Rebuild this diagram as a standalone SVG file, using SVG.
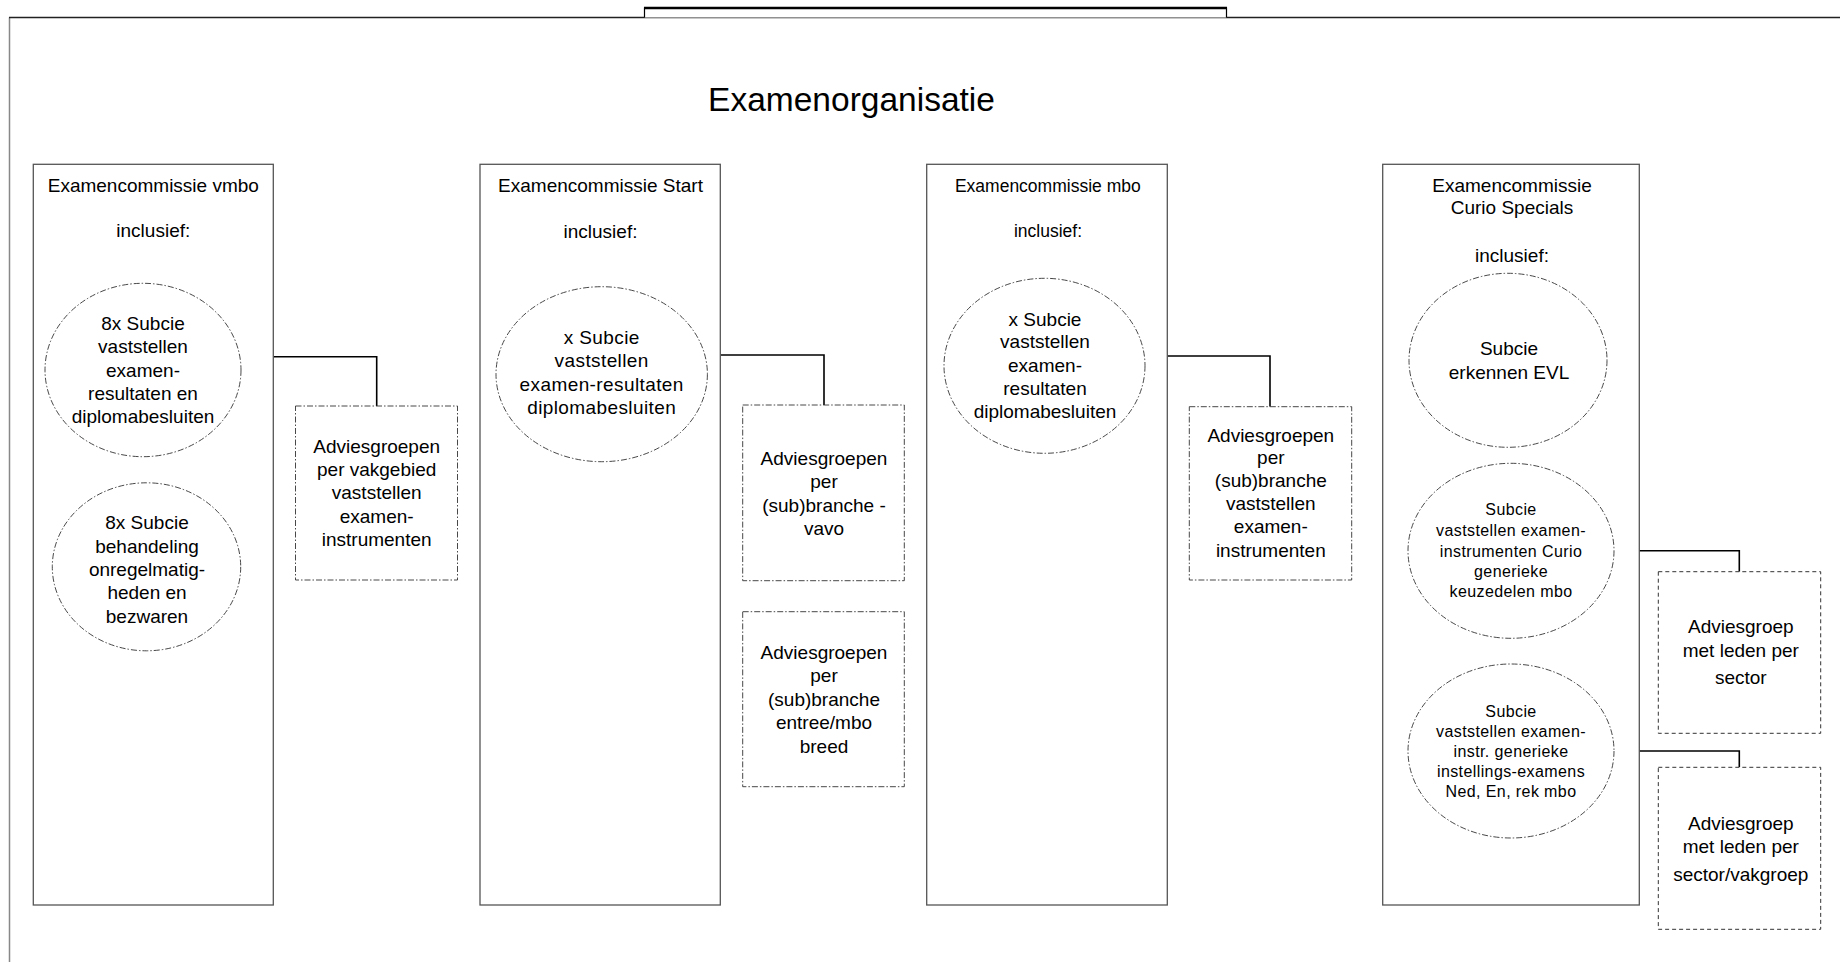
<svg xmlns="http://www.w3.org/2000/svg" width="1840" height="962" viewBox="0 0 1840 962">
<style>
text{font-family:"Liberation Sans",Arial,sans-serif;font-size:19px;fill:#000;text-anchor:middle}
.title{font-size:33.5px}
.cal{font-size:17.5px}
.sm{font-size:16px;letter-spacing:0.4px}
.wide{letter-spacing:0.4px}
.box{fill:#fff;stroke:#555;stroke-width:1.3}
.ell{fill:#fff;stroke:#333;stroke-width:0.9;stroke-dasharray:6 2 1.5 2}
.adv{fill:#fff;stroke:#333;stroke-width:0.9;stroke-dasharray:6 2 1.5 2}
.advd{fill:#fff;stroke:#333;stroke-width:1;stroke-dasharray:4 3}
.con{fill:none;stroke:#000;stroke-width:1.6}
</style>
<rect width="1840" height="962" fill="#fff"/>
<g id="frame">
<line x1="9.5" y1="17.5" x2="9.5" y2="962" stroke="#888" stroke-width="1.5"/>
<line x1="9" y1="17.5" x2="1840" y2="17.5" stroke="#222" stroke-width="1.6"/>
<path d="M644.5 17.5 V8 H1226.5 V17.5" fill="#fff" stroke="#000" stroke-width="1.2"/>
<line x1="644" y1="8" x2="1227" y2="8" stroke="#000" stroke-width="2.6"/>
<text class="title" x="851.5" y="111">Examenorganisatie</text>
</g>
<g id="connectors">
<path class="con" d="M273.3 356.7 H376.7 V406"/>
<path class="con" d="M720.3 355 H824 V405"/>
<path class="con" d="M1167.3 356 H1270 V406.7"/>
<path class="con" d="M1614 550.7 H1739.3 V571.7"/>
<path class="con" d="M1614 751 H1739.3 V767.3"/>
</g>
<g id="vmbo">
<rect class="box" x="33.3" y="164.3" width="240" height="740.7"/>
<text x="153.3" y="191.7">Examencommissie vmbo</text>
<text x="153.3" y="237.3">inclusief:</text>
</g>
<g id="vmbo-subcie-1">
<ellipse class="ell" cx="143" cy="370" rx="98" ry="86.7"/>
<text x="143" y="330">8x Subcie</text>
<text x="143" y="353.3">vaststellen</text>
<text x="143" y="376.7">examen-</text>
<text x="143" y="400">resultaten en</text>
<text x="143" y="423.3">diplomabesluiten</text>
</g>
<g id="vmbo-subcie-2">
<ellipse class="ell" cx="146.5" cy="566.8" rx="94.2" ry="84"/>
<text x="147" y="529.3">8x Subcie</text>
<text x="147" y="552.7">behandeling</text>
<text x="147" y="576">onregelmatig-</text>
<text x="147" y="599.3">heden en</text>
<text x="147" y="622.7">bezwaren</text>
</g>
<g id="vmbo-advies">
<rect class="adv" x="295.5" y="406" width="162" height="174"/>
<text x="376.7" y="452.7">Adviesgroepen</text>
<text x="376.7" y="476">per vakgebied</text>
<text x="376.7" y="499.3">vaststellen</text>
<text x="376.7" y="522.7">examen-</text>
<text x="376.7" y="546">instrumenten</text>
</g>
<g id="start">
<rect class="box" x="480" y="164.3" width="240.3" height="740.7"/>
<text x="600.5" y="191.7">Examencommissie Start</text>
<text x="600.5" y="237.5">inclusief:</text>
</g>
<g id="start-subcie">
<ellipse class="ell" cx="601.7" cy="374.2" rx="105.7" ry="87.5"/>
<text class="wide" x="601.7" y="344">x Subcie</text>
<text class="wide" x="601.7" y="367.4">vaststellen</text>
<text class="wide" x="601.7" y="390.8">examen-resultaten</text>
<text class="wide" x="601.7" y="414.2">diplomabesluiten</text>
</g>
<g id="start-advies-vavo">
<rect class="adv" x="742.7" y="405" width="161.6" height="175.7"/>
<text x="824" y="465">Adviesgroepen</text>
<text x="824" y="488.4">per</text>
<text x="824" y="511.8">(sub)branche -</text>
<text x="824" y="535.2">vavo</text>
</g>
<g id="start-advies-entree">
<rect class="adv" x="742.7" y="611.7" width="161.6" height="175"/>
<text x="824" y="659">Adviesgroepen</text>
<text x="824" y="682.4">per</text>
<text x="824" y="705.8">(sub)branche</text>
<text x="824" y="729.2">entree/mbo</text>
<text x="824" y="752.6">breed</text>
</g>
<g id="mbo">
<rect class="box" x="926.7" y="164.3" width="240.6" height="740.7"/>
<text class="cal" x="1047.8" y="191.7">Examencommissie mbo</text>
<text class="cal" x="1048" y="237.3">inclusief:</text>
</g>
<g id="mbo-subcie">
<ellipse class="ell" cx="1044.5" cy="365.8" rx="100.5" ry="87.5"/>
<text x="1045" y="325.7">x Subcie</text>
<text x="1045" y="348.3">vaststellen</text>
<text x="1045" y="371.7">examen-</text>
<text x="1045" y="395">resultaten</text>
<text x="1045" y="418.3">diplomabesluiten</text>
</g>
<g id="mbo-advies">
<rect class="adv" x="1189.3" y="406.7" width="162.4" height="173.3"/>
<text x="1270.8" y="441.7">Adviesgroepen</text>
<text x="1270.8" y="464">per</text>
<text x="1270.8" y="486.7">(sub)branche</text>
<text x="1270.8" y="510">vaststellen</text>
<text x="1270.8" y="533.3">examen-</text>
<text x="1270.8" y="556.7">instrumenten</text>
</g>
<g id="curio">
<rect class="box" x="1382.7" y="164.3" width="256.6" height="740.7"/>
<text x="1512" y="191.7">Examencommissie</text>
<text x="1512" y="214">Curio Specials</text>
<text x="1512" y="261.7">inclusief:</text>
</g>
<g id="curio-subcie-evl">
<ellipse class="ell" cx="1508" cy="360.3" rx="99" ry="87"/>
<text x="1509" y="355">Subcie</text>
<text x="1509" y="379">erkennen EVL</text>
</g>
<g id="curio-subcie-keuzedelen">
<ellipse class="ell" cx="1511" cy="550.8" rx="103" ry="87.5"/>
<text class="sm" x="1511" y="515">Subcie</text>
<text class="sm" x="1511" y="536">vaststellen examen-</text>
<text class="sm" x="1511" y="556.7">instrumenten Curio</text>
<text class="sm" x="1511" y="576.7">generieke</text>
<text class="sm" x="1511" y="597.3">keuzedelen mbo</text>
</g>
<g id="curio-subcie-instellingsexamens">
<ellipse class="ell" cx="1511" cy="751" rx="103" ry="87"/>
<text class="sm" x="1511" y="717.3">Subcie</text>
<text class="sm" x="1511" y="737.3">vaststellen examen-</text>
<text class="sm" x="1511" y="757.3">instr. generieke</text>
<text class="sm" x="1511" y="777.3">instellings-examens</text>
<text class="sm" x="1511" y="797.3">Ned, En, rek mbo</text>
</g>
<g id="curio-advies-sector">
<rect class="advd" x="1658.3" y="571.7" width="162.4" height="161.6"/>
<text x="1740.8" y="633.3">Adviesgroep</text>
<text x="1740.8" y="656.7">met leden per</text>
<text x="1740.8" y="684">sector</text>
</g>
<g id="curio-advies-vakgroep">
<rect class="advd" x="1658.3" y="767.3" width="162.4" height="162"/>
<text x="1740.8" y="830">Adviesgroep</text>
<text x="1740.8" y="853.3">met leden per</text>
<text x="1740.8" y="880.7">sector/vakgroep</text>
</g>
</svg>
